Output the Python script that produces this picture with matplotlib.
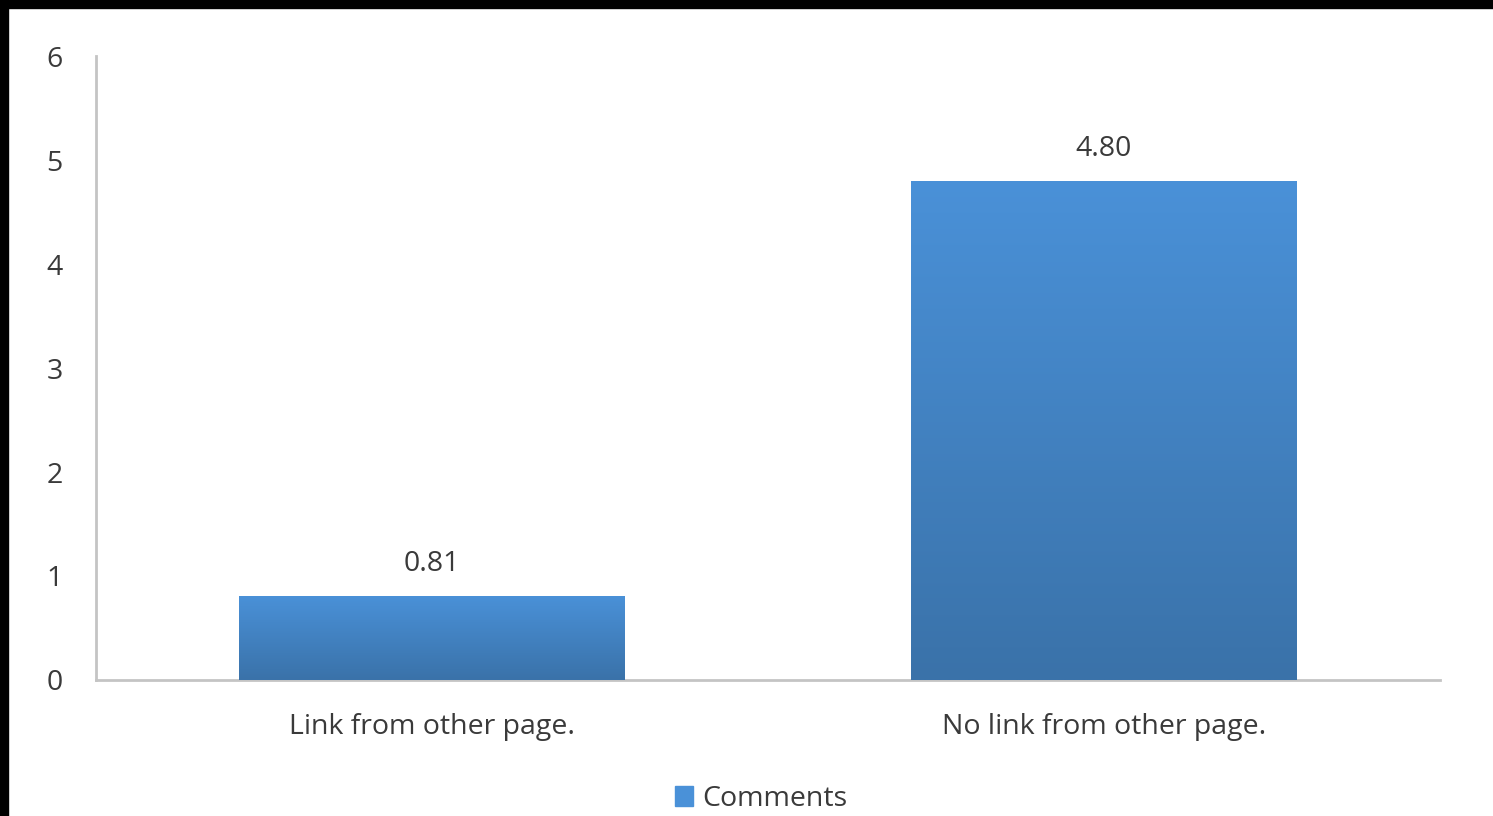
import matplotlib.pyplot as plt
import numpy as np
from matplotlib.colors import LinearSegmentedColormap
from matplotlib.patches import Rectangle

categories = ["Link from other page.", "No link from other page."]
comments = [0.81, 4.80]
series_name = "Comments"

plt.rcParams['font.family'] = ['Open Sans', 'DejaVu Sans']

TEXT = '#3a3a3a'
AXIS = '#c4c4c4'
TOP_BLUE = '#4a91d8'
BOTTOM_BLUE = '#3a72a9'
FS = 20.5

fig = plt.figure(figsize=(14.93, 8.16), dpi=100)
ax = fig.add_axes([96 / 1493, 1 - 680 / 816, (1440 - 96) / 1493, (680 - 56) / 816])

x = np.arange(len(categories))
width = 0.573
bars = ax.bar(x, comments, width=width, color=TOP_BLUE, zorder=2)

# vertical gradient inside each bar
grad_cmap = LinearSegmentedColormap.from_list('bar_grad', [BOTTOM_BLUE, TOP_BLUE])
grad = np.linspace(0, 1, 256).reshape(-1, 1)
for bar in bars:
    x0, y0 = bar.get_x(), bar.get_y()
    w, h = bar.get_width(), bar.get_height()
    im = ax.imshow(grad, cmap=grad_cmap, origin='lower', aspect='auto',
                   extent=[x0, x0 + w, y0, y0 + h], zorder=3)
    im.set_clip_path(bar)

for xi, v in zip(x, comments):
    ax.annotate(f"{v:.2f}", (xi, v), xytext=(0, 13), textcoords='offset points',
                ha='center', va='bottom', fontsize=FS, color=TEXT)

ax.set_xlim(-0.5, 1.5)
ax.set_ylim(0, 6)
ax.set_yticks(range(0, 7))
ax.set_xticks(x)
ax.set_xticklabels(categories)
ax.tick_params(axis='both', length=0, labelsize=FS, colors=TEXT)
ax.tick_params(axis='y', pad=24)
ax.tick_params(axis='x', pad=24)

for side in ('top', 'right'):
    ax.spines[side].set_visible(False)
for side in ('left', 'bottom'):
    ax.spines[side].set_color(AXIS)
    ax.spines[side].set_linewidth(2)

fig.legend([Rectangle((0, 0), 1, 1, color=TOP_BLUE)], [series_name],
           loc='center', bbox_to_anchor=(761 / 1493, 1 - 799 / 816),
           frameon=False, fontsize=FS, handlelength=0.65, handleheight=0.65,
           handletextpad=0.3, labelcolor=TEXT, borderpad=0.1)

# dark strips along the top and left edges
fig.patches.append(Rectangle((0, 1 - 8 / 816), 1, 8 / 816, transform=fig.transFigure,
                             color='black', zorder=10))
fig.patches.append(Rectangle((0, 0), 8 / 1493, 1, transform=fig.transFigure,
                             color='black', zorder=10))

fig.savefig('out.png', dpi=100, facecolor='white')
